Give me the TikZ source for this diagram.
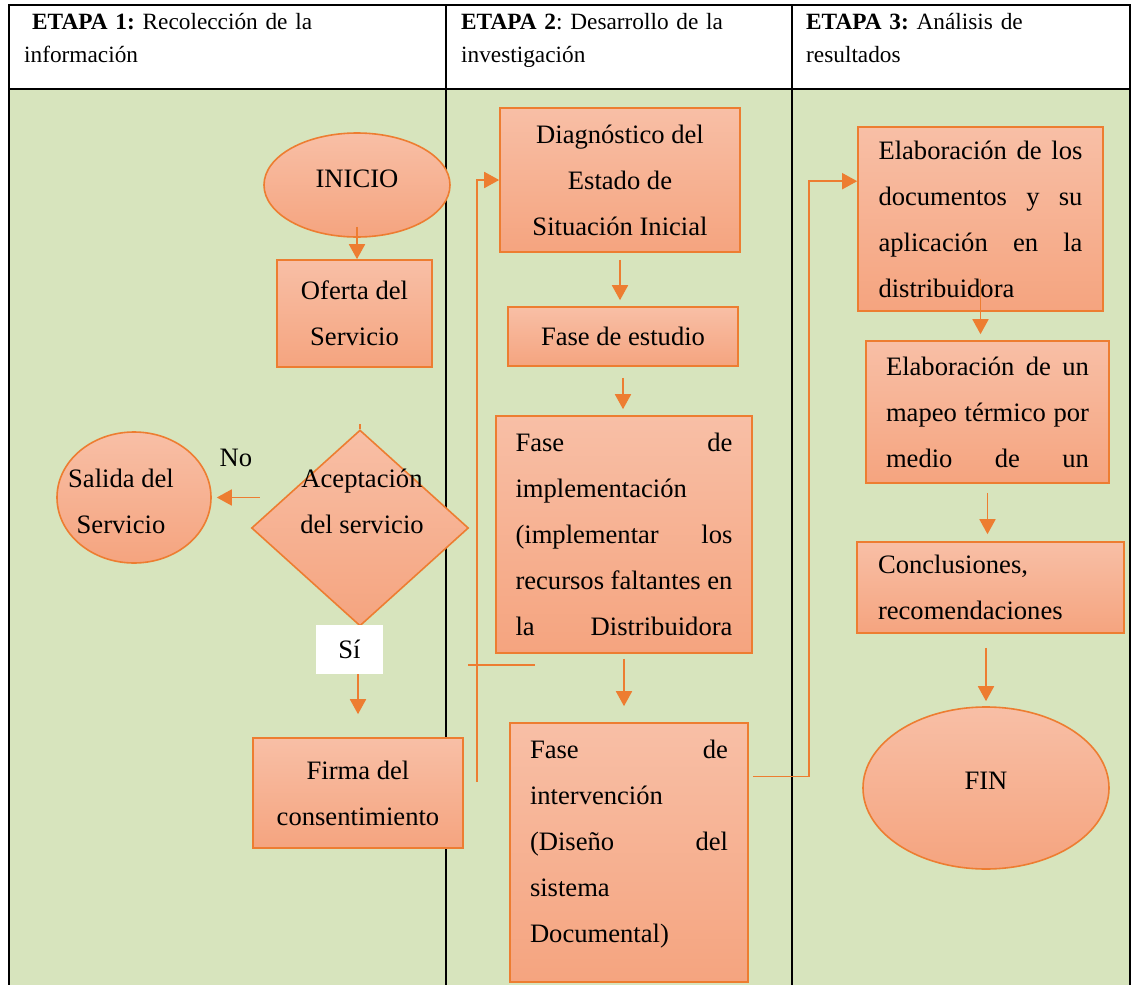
\documentclass[tikz,border=0pt]{standalone}
\usepackage{fontspec}
\setmainfont{Liberation Serif}
\usetikzlibrary{shapes.geometric, arrows.meta, calc}
\definecolor{tablegreen}{HTML}{D7E4BD}
\definecolor{boxtop}{HTML}{F8BFA6}
\definecolor{boxbottom}{HTML}{F5A47F}
\definecolor{boxline}{HTML}{ED7D31}
\frenchspacing
\newcommand{\bodyfont}{\fontsize{26.6}{46}\selectfont}
\newcommand{\headfont}{\fontsize{23.3}{32.5}\selectfont}
\tikzstyle{stagebox} = [draw=boxline, line width=1.6pt, top color=boxtop,
    bottom color=boxbottom, rectangle, inner sep=0pt, font=\bodyfont]
\tikzstyle{stageoval} = [stagebox, ellipse]
\tikzstyle{stagediamond} = [stagebox, diamond]
\tikzstyle{plaintext} = [inner sep=0pt, font=\bodyfont, align=center]
\tikzstyle{headtext} = [anchor=base west, inner sep=0pt, text width=330pt,
    align=left, font=\headfont]
\tikzstyle{flowline} = [draw=boxline, line width=1.8pt]
\tikzstyle{flowarrow} = [flowline, -{Triangle[width=16pt,length=15pt]}]
\tikzstyle{tableline} = [line width=2.4pt, black]

\begin{document}
\begin{tikzpicture}[x=1pt, y=-1pt]
\useasboundingbox (0,0) rectangle (1133,985);
\fill[tablegreen] (9,89) rectangle (1130,985);
\draw[tableline] (9,985) -- (9,5) -- (1130,5) -- (1130,985);
\draw[tableline] (9,89) -- (1130,89);
\draw[tableline] (446,5) -- (446,985);
\draw[tableline] (792,5) -- (792,985);

\node[headtext] (etapauno) at (24,29.5) {\hspace{8pt}\textbf{ETAPA 1:} Recolección de la\\información};
\node[headtext] (etapados) at (461,29.5) {\textbf{ETAPA 2}: Desarrollo de la\\investigación};
\node[headtext] (etapatres) at (806,29.5) {\textbf{ETAPA 3:} Análisis de\\resultados};

\node[stageoval, minimum width=186pt, minimum height=104pt, text depth=12pt] (inicio) at (357,185) {INICIO};
\node[stagebox, minimum width=155pt, minimum height=107pt, align=center] (oferta) at (354.5,313.5) {Oferta del\\Servicio};
\node[stagediamond, minimum width=217pt, minimum height=196pt] (aceptacion) at (360,528) {};
\node[plaintext] (aceptaciontexto) at (362,501) {Aceptación\\del servicio};
\node[stageoval, minimum width=154pt, minimum height=131pt] (salida) at (134,497.5) {};
\node[plaintext] (salidatexto) at (121,501) {Salida del\\Servicio};
\node[plaintext] (no) at (236,458) {No};
\node[plaintext, fill=white, minimum width=67pt, minimum height=49pt] (si) at (349.5,649.5) {Sí};
\node[stagebox, minimum width=210pt, minimum height=110pt, align=center] (firma) at (358,793) {Firma del\\consentimiento};

\node[stagebox, minimum width=240pt, minimum height=144pt, align=center] (diagnostico) at (620,180) {Diagnóstico del\\Estado de\\Situación Inicial};
\node[stagebox, minimum width=230pt, minimum height=59pt] (estudio) at (623,336.5) {Fase de estudio};
\node[stagebox, minimum width=256pt, minimum height=237pt, text width=217pt, align=left] (implementacion) at (624,534.5) {Fase\hfill de\\implementación\\(implementar\hfill los\\recursos\hfill faltantes\hfill en\\la\hfill Distribuidora};
\node[stagebox, minimum width=238pt, minimum height=259pt, text width=198pt, align=left, text depth=206.7pt] (intervencion) at (629,852.5) {Fase\hfill de\\intervención\\(Diseño\hfill del\\sistema\\Documental)};

\node[stagebox, minimum width=245pt, minimum height=184pt, text width=204pt, align=left] (documentos) at (980.5,219) {Elaboración\hfill de\hfill los\\documentos\hfill y\hfill su\\aplicación\hfill en\hfill la\\distribuidora};
\node[stagebox, minimum width=243pt, minimum height=142pt, text width=203pt, align=left] (mapeo) at (987.5,412) {Elaboración\hfill de\hfill un\\mapeo\hfill térmico\hfill por\\medio\hfill de\hfill un};
\node[stagebox, minimum width=267pt, minimum height=91pt, text width=225pt, align=left] (conclusiones) at (990.5,587.5) {Conclusiones,\\recomendaciones};
\node[stageoval, minimum width=246pt, minimum height=162pt, text depth=14pt] (fin) at (986,788) {FIN};

\draw[flowarrow, shorten <=-11pt] (inicio.south) -- (inicio.south |- oferta.north);
\draw[flowline] (aceptacion.north) -- ++(0,-5);
\draw[flowarrow, shorten >=5pt] ($(aceptacion.west |- salida.east)+(9,0)$) -- (salida.east);
\draw[flowarrow, shorten >=23pt] (si.south -| firma.north) -- (firma.north);
\draw[flowarrow] ($(firma.east)+(13,-11)$) |- (diagnostico.west);
\draw[flowline] ($(implementacion.south west)+(-27,11)$) -- ++(67,0);
\draw[flowarrow, shorten <=7pt, shorten >=6pt] (diagnostico.south) -- (diagnostico.south |- estudio.north);
\draw[flowarrow, shorten <=11pt, shorten >=6pt] (estudio.south) -- (estudio.south |- implementacion.north);
\draw[flowarrow, shorten <=5pt, shorten >=16pt] (implementacion.south) -- (implementacion.south |- intervencion.north);
\draw[flowarrow] ($(intervencion.east)+(4,-76)$) -- ++(56,0) |- ($(documentos.north west)+(0,55)$);
\draw[flowarrow, shorten <=-33pt, shorten >=6pt] (documentos.south) -- (documentos.south |- mapeo.north);
\draw[flowarrow, shorten <=9pt, shorten >=7pt] (mapeo.south) -- (mapeo.south |- conclusiones.north);
\draw[flowarrow, shorten <=14pt, shorten >=5pt] (conclusiones.south -| fin.north) -- (fin.north);
\end{tikzpicture}
\end{document}
